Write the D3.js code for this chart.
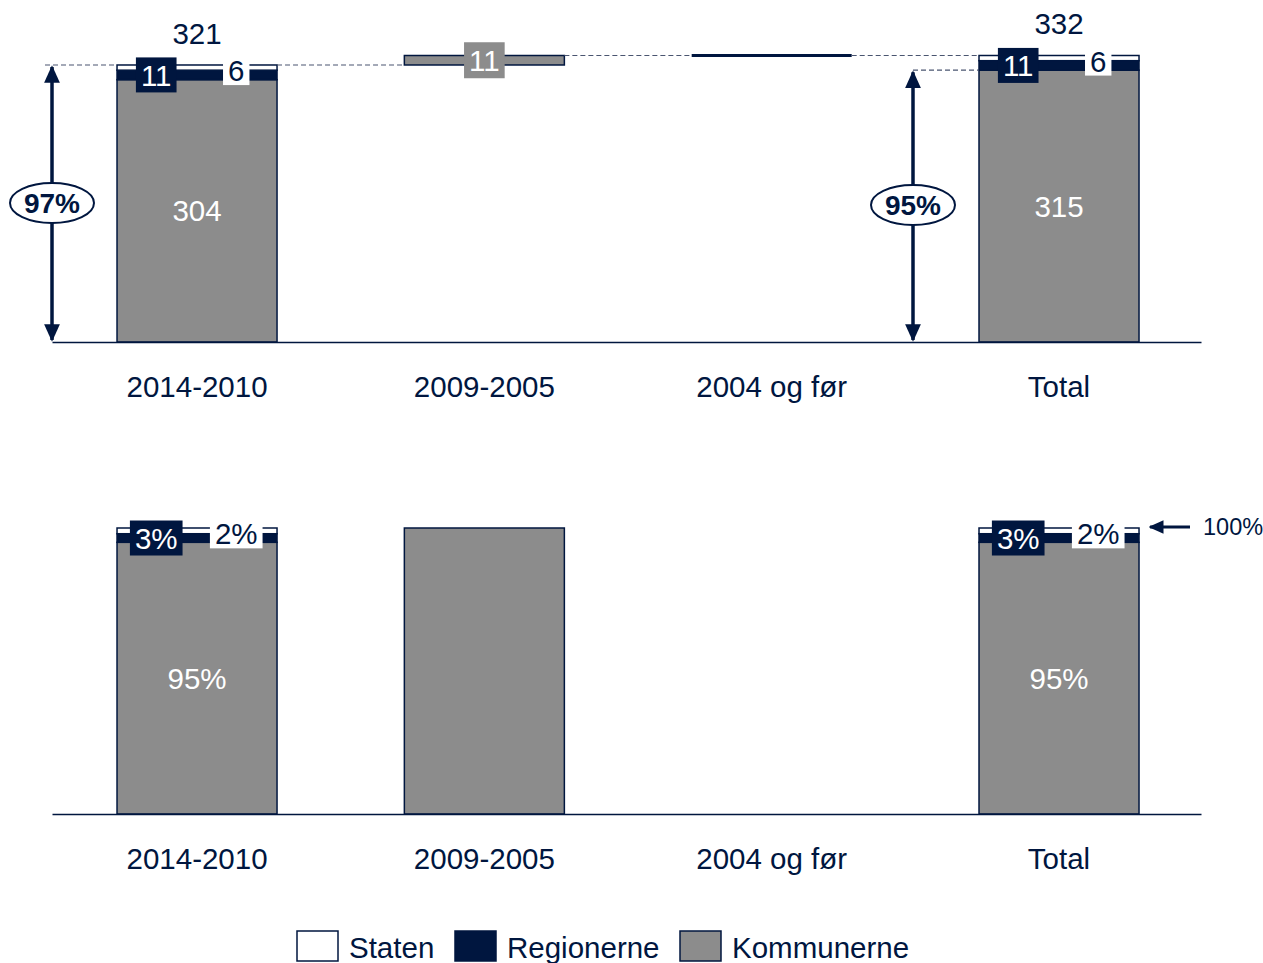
<!DOCTYPE html>
<head>
  <meta charset="utf-8">
  <style>
    body { margin: 0; background: #fff; }
    svg text { font-family: "Liberation Sans", Arial, sans-serif; }
  </style>
  <script src="https://cdn.jsdelivr.net/npm/d3@7"></script>
</head>
<body>
<svg id=chart width="1263" height="963"></svg>
<script>
// data
const categories = ['2014-2010', '2009-2005', '2004 og før', 'Total']
const isStep = [false, true, true, false]
const kommunerne = [304, 11, 0, 315]
const regionerne = [11, 0, 0, 11]
const staten = [6, 0, 0, 6]
const totalLabels = ['321', '', '', '332']
const kommunernePct = [95, 100, 0, 95]
const regionernePct = [3, 0, 0, 3]
const statenPct = [2, 0, 0, 2]
const pctLabels = [['95%', '3%', '2%'], ['', '', ''], ['', '', ''], ['95%', '3%', '2%']]
const shareLabels = ['97%', '95%']
const keys = ['kommunerne', 'regionerne', 'staten']
const legendNames = ['Staten', 'Regionerne', 'Kommunerne']

const NAVY = '#00163f'
const GRAY = '#8c8c8c'
const colors = { kommunerne: GRAY, regionerne: NAVY, staten: '#fff' }
const FS = 29.5

const svg = d3.select('#chart')
const defs = svg.append('defs')
defs.append('marker').attr('id', 'arr')
  .attr('viewBox', '0 0 10 10').attr('refX', 9).attr('refY', 5)
  .attr('markerWidth', 5).attr('markerHeight', 5.5).attr('orient', 'auto-start-reverse')
  .attr('markerUnits', 'strokeWidth')
  .append('path').attr('d', 'M0,0.5L10,5L0,9.5z').attr('fill', NAVY)

const x = d3.scaleBand().domain(categories).range([52, 1201])
  .paddingInner(0.4431).paddingOuter(0.221).align(0.512)
const bw = x.bandwidth()

// waterfall bases
let running = 0
const rowsTop = categories.map((c, i) => {
  const sum = kommunerne[i] + regionerne[i] + staten[i]
  const base = isStep[i] ? running : 0
  running = isStep[i] ? running + sum : sum
  return { cat: c, base, kommunerne: kommunerne[i], regionerne: regionerne[i], staten: staten[i] }
})
const rowsBottom = categories.map((c, i) => ({
  cat: c, base: 0, kommunerne: kommunernePct[i], regionerne: regionernePct[i], staten: statenPct[i]
}))

const yTop = d3.scaleLinear().domain([0, 332]).range([342, 55.5])
const yBot = d3.scaleLinear().domain([0, 100]).range([814, 528])

function drawPanel(rows, y, which) {
  const g = svg.append('g')
  const series = d3.stack().keys(keys)(rows)
  // bars
  series.forEach(s => {
    g.selectAll(null).data(s.filter(d => d[1] > d[0])).join('rect')
      .attr('x', d => x(d.data.cat))
      .attr('width', bw)
      .attr('y', d => y(d.data.base + d[1]))
      .attr('height', d => y(d.data.base + d[0]) - y(d.data.base + d[1]))
      .attr('fill', colors[s.key])
      .attr('stroke', NAVY).attr('stroke-width', 1.5)
  })
  // zero bars drawn as a line
  rows.filter(r => keys.every(k => r[k] === 0) && which === 'top').forEach(r => {
    g.append('line')
      .attr('x1', x(r.cat)).attr('x2', x(r.cat) + bw)
      .attr('y1', y(r.base)).attr('y2', y(r.base))
      .attr('stroke', NAVY).attr('stroke-width', 3)
  })
  // axis
  const ax = g.append('g').attr('transform', `translate(0,${y(0)})`)
    .call(d3.axisBottom(x).tickSize(0).tickSizeOuter(0).tickPadding(34))
  ax.select('.domain').attr('stroke', NAVY).attr('stroke-width', 1.5)
  ax.selectAll('text').attr('font-size', FS).attr('fill', NAVY)
    .attr('font-family', '"Liberation Sans", Arial, sans-serif')
  return { g, series }
}

function boxLabel(g, cx, cy, text, fill, textFill, padX, h) {
  const t = g.append('text').attr('x', cx).attr('y', cy).attr('dy', '0.36em')
    .attr('text-anchor', 'middle').attr('font-size', FS).attr('fill', textFill).text(text)
  const b = t.node().getBBox()
  g.insert('rect', () => t.node())
    .attr('x', b.x - padX).attr('width', b.width + 2 * padX)
    .attr('y', cy - h / 2).attr('height', h).attr('fill', fill)
}

function segLabels(g, rows, y, getLabels) {
  rows.forEach((r, i) => {
    const lab = getLabels(i)
    const x0 = x(r.cat)
    const k0 = r.base, k1 = k0 + r.kommunerne, r1 = k1 + r.regionerne, s1 = r1 + r.staten
    if (lab[0]) {
      const cy = (y(k0) + y(k1)) / 2
      if (y(k0) - y(k1) > 40) {
        g.append('text').attr('x', x0 + bw / 2).attr('y', cy).attr('dy', '0.36em')
          .attr('text-anchor', 'middle').attr('font-size', FS).attr('fill', '#fff').text(lab[0])
      } else {
        boxLabel(g, x0 + bw / 2, cy, lab[0], GRAY, '#fff', 5, 36)
      }
    }
    if (lab[1]) boxLabel(g, x0 + bw * 0.245, (y(k1) + y(r1)) / 2, lab[1], NAVY, '#fff', 5, 35)
    if (lab[2]) boxLabel(g, x0 + bw * 0.745, (y(r1) + y(s1)) / 2 + 3, lab[2], '#fff', NAVY, 5, 29)
  })
}

// ---- top panel (values)
const topPanel = drawPanel(rowsTop, yTop, 'top')

// dashed connectors
const dash = (g, x1, x2, yy) => g.append('line').attr('x1', x1).attr('x2', x2)
  .attr('y1', yy).attr('y2', yy).attr('stroke', '#4a5570').attr('stroke-width', 1.2)
  .attr('stroke-dasharray', '5,3')
const tot = (r) => r.base + r.kommunerne + r.regionerne + r.staten
dash(topPanel.g, 45, x(categories[0]), yTop(tot(rowsTop[0])))
for (let i = 0; i < rowsTop.length - 1; i++) {
  const lvl = isStep[i + 1] ? rowsTop[i + 1].base : tot(rowsTop[i])
  dash(topPanel.g, x(categories[i]) + bw, x(categories[i + 1]), yTop(lvl))
}
dash(topPanel.g, 913, x(categories[3]), yTop(rowsTop[3].kommunerne))

segLabels(topPanel.g, rowsTop, yTop, i => [String(kommunerne[i] || ''), String(regionerne[i] || ''), String(staten[i] || '')]
  .map((v, j) => (isStep[i] && j > 0) ? '' : v))

// totals above bars
rowsTop.forEach((r, i) => {
  if (!totalLabels[i]) return
  topPanel.g.append('text').attr('x', x(r.cat) + bw / 2).attr('y', yTop(tot(r)) - 32).attr('dy', '0.36em')
    .attr('text-anchor', 'middle').attr('font-size', FS).attr('fill', NAVY).text(totalLabels[i])
})

// share arrows
function shareArrow(ax, yTopVal, label, cy) {
  topPanel.g.append('line').attr('x1', ax).attr('x2', ax)
    .attr('y1', yTop(0) - 2).attr('y2', yTopVal + 2)
    .attr('stroke', NAVY).attr('stroke-width', 3.5)
    .attr('marker-start', 'url(#arr)').attr('marker-end', 'url(#arr)')
  topPanel.g.append('ellipse').attr('cx', ax).attr('cy', cy).attr('rx', 42).attr('ry', 20)
    .attr('fill', '#fff').attr('stroke', NAVY).attr('stroke-width', 2)
  topPanel.g.append('text').attr('x', ax).attr('y', cy).attr('dy', '0.36em').attr('text-anchor', 'middle')
    .attr('font-size', 28).attr('font-weight', 'bold').attr('fill', NAVY).text(label)
}
shareArrow(52, yTop(tot(rowsTop[0])), shareLabels[0], 203)
shareArrow(913, yTop(rowsTop[3].kommunerne), shareLabels[1], 205)

// ---- bottom panel (shares)
const botPanel = drawPanel(rowsBottom, yBot, 'bottom')
segLabels(botPanel.g, rowsBottom, yBot, i => pctLabels[i])

// 100% marker
botPanel.g.append('line').attr('x1', 1190).attr('x2', 1150).attr('y1', yBot(100) - 1).attr('y2', yBot(100) - 1)
  .attr('stroke', NAVY).attr('stroke-width', 3).attr('marker-end', 'url(#arr)')
botPanel.g.append('text').attr('x', 1203).attr('y', yBot(100) - 1).attr('dy', '0.36em')
  .attr('font-size', 23.5).attr('fill', NAVY).text('100%')

// ---- legend
const legendFill = { Staten: '#fff', Regionerne: NAVY, Kommunerne: GRAY }
const legendX = [297, 455, 680]
const lg = svg.append('g').attr('transform', 'translate(0,931)')
legendNames.forEach((n, i) => {
  lg.append('rect').attr('x', legendX[i]).attr('y', 0).attr('width', 41).attr('height', 30)
    .attr('fill', legendFill[n]).attr('stroke', NAVY).attr('stroke-width', 1.5)
  lg.append('text').attr('x', legendX[i] + 52).attr('y', 16).attr('dy', '0.36em')
    .attr('font-size', FS).attr('fill', NAVY).text(n)
})
</script>
</body>
